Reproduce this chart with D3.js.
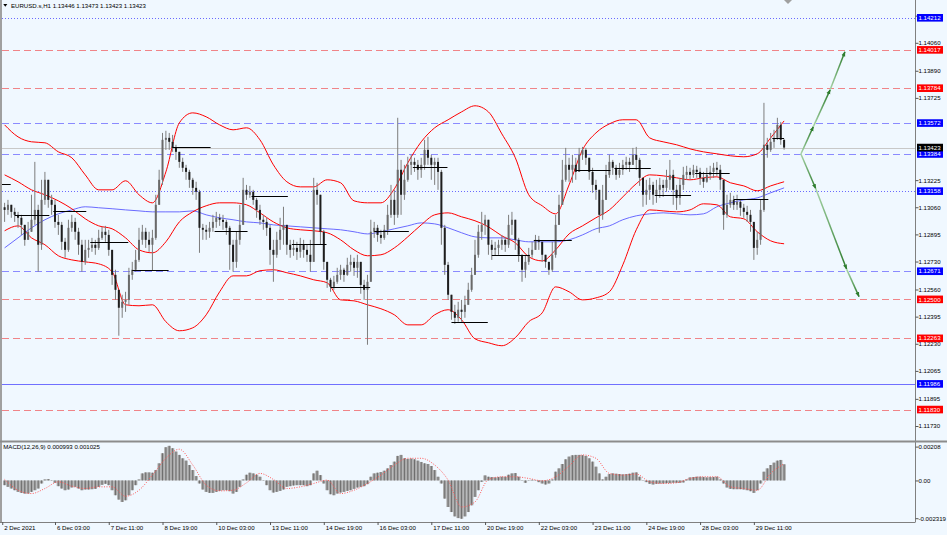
<!DOCTYPE html>
<html>
<head>
<meta charset="utf-8">
<script src="https://cdn.jsdelivr.net/npm/d3@7"></script>
<style>
  body { margin: 0; background: #f0f8ff; }
  svg text { font-family: "Liberation Sans", Arial, sans-serif; font-size: 6.1px; fill: #000; }
</style>
</head>
<body>
<svg id="chart" width="947" height="535"></svg>
<script>
const closes = [
  1.13044,1.13075,1.13032,1.13014,1.12996,1.12953,1.12862,1.12911,1.12984,1.13044,
  1.12832,1.13105,1.13227,1.13105,1.13075,1.12971,1.12953,1.12850,1.12801,1.12935,
  1.12971,1.12911,1.12832,1.12728,1.12801,1.12813,1.12832,1.12813,1.12874,1.12911,
  1.12892,1.12801,1.12649,1.12558,1.12449,1.12485,1.12497,1.12649,1.12680,1.12740,
  1.12862,1.12911,1.12862,1.12832,1.12874,1.13075,1.13227,1.13470,1.13482,1.13458,
  1.13421,1.13397,1.13336,1.13300,1.13275,1.13227,1.13178,1.13154,1.12935,1.12923,
  1.12911,1.12935,1.12971,1.12996,1.12984,1.12971,1.12935,1.12832,1.12728,1.12862,
  1.12953,1.13166,1.13136,1.13154,1.13105,1.13044,1.12984,1.12971,1.12935,1.12801,
  1.12771,1.12862,1.12923,1.12953,1.12832,1.12801,1.12813,1.12789,1.12832,1.12801,
  1.12771,1.12728,1.13166,1.13136,1.12911,1.12728,1.12619,1.12576,1.12607,1.12649,
  1.12680,1.12649,1.12710,1.12728,1.12692,1.12728,1.12588,1.12558,1.12607,1.12911,
  1.12935,1.12892,1.12874,1.12923,1.13014,1.13105,1.13014,1.13288,1.13136,1.13227,
  1.13318,1.13336,1.13318,1.13288,1.13318,1.13409,1.13361,1.13318,1.13336,1.13275,
  1.12935,1.12710,1.12528,1.12424,1.12388,1.12437,1.12424,1.12467,1.12558,1.12649,
  1.12771,1.12911,1.12953,1.12984,1.12832,1.12801,1.12813,1.12832,1.12862,1.12832,
  1.12953,1.12984,1.12862,1.12771,1.12680,1.12728,1.12771,1.12801,1.12862,1.12850,
  1.12771,1.12728,1.12680,1.12771,1.12953,1.13075,1.13227,1.13318,1.13288,1.13318,
  1.13275,1.13379,1.13409,1.13361,1.13275,1.13196,1.13166,1.13014,1.13105,1.13257,
  1.13336,1.13300,1.13257,1.13288,1.13318,1.13336,1.13318,1.13379,1.13348,1.13239,
  1.13136,1.13166,1.13196,1.13136,1.13166,1.13196,1.13178,1.13227,1.13257,1.13166,
  1.13117,1.13196,1.13257,1.13275,1.13257,1.13288,1.13275,1.13239,1.13215,1.13257,
  1.13275,1.13300,1.13288,1.13227,1.13014,1.13075,1.13105,1.13075,1.13093,1.13057,
  1.13032,1.13014,1.12971,1.12813,1.12862,1.13044,1.13440,1.13409,1.13458,1.13482,
  1.13561,1.13470,1.13423
];
const highs = [
  1.13087,1.13105,1.13075,1.13057,1.13032,1.13014,1.12953,1.12971,1.13136,1.13336,
  1.13075,1.13227,1.13275,1.13196,1.13136,1.13105,1.13014,1.12971,1.12874,1.12984,
  1.13014,1.12996,1.12935,1.12862,1.12862,1.12862,1.12874,1.12862,1.12923,1.12941,
  1.12947,1.12923,1.12801,1.12680,1.12558,1.12528,1.12546,1.12692,1.12728,1.12801,
  1.12935,1.12953,1.12935,1.12911,1.12923,1.13136,1.13288,1.13512,1.13525,1.13512,
  1.13500,1.13440,1.13397,1.13361,1.13318,1.13288,1.13239,1.13215,1.13166,1.12959,
  1.12953,1.12971,1.13014,1.13032,1.13020,1.13014,1.12984,1.12947,1.12862,1.12911,
  1.13075,1.13239,1.13196,1.13190,1.13166,1.13117,1.13075,1.13014,1.12996,1.12953,
  1.12862,1.12911,1.12996,1.13063,1.12953,1.12862,1.12862,1.12850,1.12874,1.12862,
  1.12832,1.12862,1.13239,1.13209,1.13117,1.12923,1.12728,1.12631,1.12643,1.12692,
  1.12710,1.12692,1.12753,1.12771,1.12753,1.12771,1.12710,1.12619,1.12649,1.12984,
  1.12971,1.12953,1.12923,1.12953,1.13075,1.13196,1.13166,1.13604,1.13348,1.13318,
  1.13367,1.13379,1.13361,1.13348,1.13361,1.13470,1.13488,1.13379,1.13361,1.13361,
  1.13288,1.12953,1.12728,1.12528,1.12467,1.12485,1.12497,1.12522,1.12601,1.12692,
  1.12862,1.12953,1.13032,1.13014,1.12935,1.12862,1.12850,1.12862,1.12892,1.12880,
  1.13014,1.13032,1.12953,1.12874,1.12771,1.12771,1.12813,1.12850,1.12892,1.12886,
  1.12832,1.12771,1.12728,1.12850,1.13014,1.13136,1.13348,1.13421,1.13361,1.13379,
  1.13361,1.13421,1.13427,1.13421,1.13361,1.13300,1.13227,1.13166,1.13196,1.13318,
  1.13379,1.13348,1.13318,1.13330,1.13348,1.13367,1.13361,1.13421,1.13427,1.13361,
  1.13239,1.13227,1.13239,1.13215,1.13227,1.13239,1.13227,1.13288,1.13348,1.13288,
  1.13196,1.13239,1.13306,1.13312,1.13300,1.13318,1.13312,1.13300,1.13275,1.13300,
  1.13312,1.13330,1.13336,1.13318,1.13227,1.13136,1.13148,1.13130,1.13136,1.13105,
  1.13081,1.13069,1.13044,1.12935,1.12911,1.13105,1.13695,1.13482,1.13512,1.13531,
  1.13604,1.13579,1.13473
];
const lows = [
  1.12971,1.13014,1.12996,1.12971,1.12935,1.12892,1.12826,1.12862,1.12911,1.12953,
  1.12668,1.12801,1.13075,1.13057,1.13014,1.12935,1.12892,1.12801,1.12753,1.12789,
  1.12911,1.12862,1.12771,1.12668,1.12710,1.12753,1.12789,1.12771,1.12801,1.12862,
  1.12850,1.12765,1.12588,1.12497,1.12279,1.12388,1.12424,1.12467,1.12619,1.12668,
  1.12728,1.12832,1.12813,1.12789,1.12674,1.12862,1.13075,1.13196,1.13409,1.13409,
  1.13397,1.13348,1.13300,1.13275,1.13227,1.13178,1.13136,1.13105,1.12783,1.12862,
  1.12862,1.12874,1.12911,1.12935,1.12947,1.12923,1.12892,1.12680,1.12668,1.12692,
  1.12832,1.13105,1.13105,1.13117,1.13075,1.12996,1.12953,1.12923,1.12886,1.12710,
  1.12607,1.12753,1.12801,1.12832,1.12771,1.12753,1.12765,1.12740,1.12753,1.12753,
  1.12728,1.12668,1.12801,1.13075,1.12832,1.12680,1.12570,1.12546,1.12558,1.12595,
  1.12619,1.12607,1.12643,1.12668,1.12643,1.12631,1.12534,1.12497,1.12224,1.12607,
  1.12874,1.12850,1.12838,1.12862,1.12892,1.12996,1.12953,1.12996,1.13014,1.13105,
  1.13215,1.13257,1.13275,1.13227,1.13239,1.13288,1.13318,1.13227,1.13196,1.13166,
  1.12832,1.12649,1.12497,1.12376,1.12351,1.12364,1.12364,1.12388,1.12497,1.12546,
  1.12649,1.12753,1.12862,1.12892,1.12771,1.12740,1.12765,1.12771,1.12801,1.12789,
  1.12813,1.12892,1.12801,1.12728,1.12607,1.12631,1.12710,1.12753,1.12813,1.12801,
  1.12728,1.12692,1.12649,1.12668,1.12753,1.12953,1.13075,1.13215,1.13215,1.13209,
  1.13227,1.13275,1.13348,1.13318,1.13227,1.13148,1.13105,1.12905,1.12984,1.13105,
  1.13239,1.13257,1.13227,1.13239,1.13257,1.13288,1.13275,1.13318,1.13288,1.13190,
  1.13063,1.13075,1.13105,1.13075,1.13087,1.13117,1.13123,1.13154,1.13166,1.13075,
  1.13044,1.13075,1.13166,1.13227,1.13227,1.13239,1.13239,1.13196,1.13178,1.13209,
  1.13227,1.13239,1.13251,1.13166,1.12923,1.12996,1.13057,1.13044,1.13044,1.13008,
  1.12996,1.12971,1.12911,1.12740,1.12771,1.12832,1.13032,1.13361,1.13397,1.13421,
  1.13470,1.13440,1.13410
];
const firstOpen = 1.13060;

// Bollinger bands and moving average, one value every 4 bars
const bandStep = 4;
const bbUpper = [
  1.13561,1.13488,1.13458,1.13452,1.13397,1.13361,1.13257,1.13166,1.13166,1.13221,
  1.13136,1.13087,1.13275,1.13573,1.13634,1.13610,1.13561,1.13531,1.13543,1.13470,
  1.13318,1.13215,1.13184,1.13184,1.13227,1.13209,1.13099,1.13087,1.13087,1.13172,
  1.13330,1.13458,1.13543,1.13592,1.13640,1.13677,1.13640,1.13506,1.13361,1.13136,
  1.13069,1.13020,1.13196,1.13409,1.13512,1.13567,1.13592,1.13592,1.13482,1.13458,
  1.13440,1.13415,1.13397,1.13385,1.13373,1.13367,1.13385,1.13482,1.13585
];
const bbMiddle = [
  1.13257,1.13215,1.13166,1.13136,1.13099,1.13051,1.12990,1.12947,1.12929,1.12874,
  1.12801,1.12783,1.12850,1.12971,1.13032,1.13069,1.13087,1.13087,1.13075,1.13026,
  1.12971,1.12935,1.12923,1.12917,1.12905,1.12862,1.12801,1.12765,1.12771,1.12813,
  1.12880,1.12953,1.13014,1.13026,1.13002,1.12978,1.12941,1.12886,1.12844,1.12759,
  1.12734,1.12801,1.12898,1.12947,1.12996,1.13044,1.13123,1.13203,1.13257,1.13251,
  1.13239,1.13227,1.13239,1.13245,1.13209,1.13190,1.13160,1.13190,1.13215
];
const bbLower = [
  1.12917,1.12947,1.12874,1.12832,1.12765,1.12740,1.12728,1.12716,1.12668,1.12467,
  1.12461,1.12467,1.12364,1.12309,1.12327,1.12406,1.12546,1.12643,1.12643,1.12674,
  1.12680,1.12662,1.12643,1.12619,1.12601,1.12497,1.12491,1.12467,1.12443,1.12406,
  1.12345,1.12345,1.12406,1.12437,1.12376,1.12260,1.12236,1.12218,1.12267,1.12364,
  1.12418,1.12576,1.12546,1.12497,1.12509,1.12546,1.12710,1.12923,1.13044,1.13038,
  1.13032,1.13044,1.13081,1.13075,1.13002,1.12990,1.12911,1.12856,1.12838
];
const maSlow = [
  1.12813,1.12874,1.12935,1.12984,1.13020,1.13044,1.13063,1.13057,1.13051,1.13044,
  1.13038,1.13032,1.13032,1.13032,1.13038,1.13014,1.12996,1.12984,1.12971,1.12965,
  1.12953,1.12947,1.12941,1.12935,1.12929,1.12923,1.12911,1.12898,1.12911,1.12929,
  1.12947,1.12965,1.12959,1.12935,1.12905,1.12880,1.12874,1.12874,1.12862,1.12850,
  1.12850,1.12850,1.12862,1.12892,1.12929,1.12947,1.12984,1.13008,1.13020,1.13026,
  1.13020,1.13014,1.13020,1.13063,1.13087,1.13105,1.13117,1.13148,1.13178
];

// daily open lines
const dayStart = [-1.2,3,14.5,25.5,38,50,62.5,73.5,85.5,97,110,121.5,133,145,157.5,170,181.5,193.5,205.5,217,228.5];
const dayOpen = [1.13203,1.13014,1.13038,1.12850,1.12680,1.13427,1.12917,1.13130,1.12838,1.12576,
  1.12917,1.13306,1.12364,1.12771,1.12862,1.13288,1.13300,1.13136,1.13269,1.13111,1.13482];

// MACD(12,26,9)
const macdHist = [
  -0.000289,-0.000392,-0.000495,-0.000599,-0.000702,-0.000764,-0.000805,-0.000805,-0.000702,-0.000599,
  -0.000495,-0.000186,0.000062,0.000083,0.000021,-0.000144,-0.000351,-0.000495,-0.000599,-0.000557,
  -0.000433,-0.000392,-0.000495,-0.000599,-0.000557,-0.000557,-0.000537,-0.000516,-0.000392,-0.000268,
  -0.000206,-0.000289,-0.000599,-0.000908,-0.001176,-0.001321,-0.001218,-0.000908,-0.000599,-0.000289,
  0.000062,0.000433,0.000495,0.000495,0.000475,0.000640,0.001053,0.001672,0.002043,0.002126,
  0.001981,0.001775,0.001569,0.001362,0.001218,0.000949,0.000640,0.000268,-0.000186,-0.000557,
  -0.000702,-0.000764,-0.000764,-0.000702,-0.000640,-0.000599,-0.000599,-0.000660,-0.000805,-0.000702,
  -0.000392,0.000062,0.000351,0.000475,0.000433,0.000351,0.000227,-0.000021,-0.000289,-0.000599,
  -0.000743,-0.000702,-0.000640,-0.000557,-0.000392,-0.000351,-0.000310,-0.000289,-0.000289,-0.000289,
  -0.000351,-0.000289,0.000433,0.000599,0.000330,-0.000186,-0.000599,-0.000846,-0.000908,-0.000805,
  -0.000743,-0.000702,-0.000640,-0.000599,-0.000516,-0.000433,-0.000392,-0.000351,-0.000227,0.000227,
  0.000433,0.000475,0.000516,0.000599,0.000743,0.000949,0.001156,0.001507,0.001569,0.001362,
  0.001321,0.001342,0.001300,0.001218,0.001135,0.001053,0.001011,0.000888,0.000640,0.000227,
  -0.000186,-0.001115,-0.001631,-0.001940,-0.002208,-0.002312,-0.002353,-0.002208,-0.001940,-0.001527,
  -0.001011,-0.000599,-0.000083,0.000310,0.000227,0.000206,0.000186,0.000206,0.000227,0.000227,
  0.000351,0.000433,0.000454,0.000227,-0.000021,-0.000144,0.000021,0.000041,-0.000021,-0.000103,
  -0.000186,-0.000248,-0.000186,0.000062,0.000537,0.000743,0.001011,0.001300,0.001465,0.001548,
  0.001569,0.001569,0.001548,0.001507,0.001362,0.001156,0.000846,0.000433,0.000062,0.000227,
  0.000392,0.000433,0.000413,0.000392,0.000372,0.000392,0.000413,0.000475,0.000495,0.000227,
  0.000021,-0.000103,-0.000206,-0.000248,-0.000206,-0.000186,-0.000186,-0.000165,-0.000165,-0.000144,
  -0.000144,-0.000144,-0.000124,0.000062,0.000186,0.000206,0.000227,0.000227,0.000206,0.000186,
  0.000206,0.000206,0.000227,0.000062,-0.000186,-0.000433,-0.000516,-0.000537,-0.000537,-0.000537,
  -0.000557,-0.000599,-0.000660,-0.000764,-0.000599,-0.000186,0.000537,0.000743,0.000949,0.001094,
  0.001218,0.001259,0.000993
];
const macdSignal = [
  0.000062,-0.000599,-0.000805,-0.000495,-0.000083,-0.000351,-0.000495,-0.000392,-0.000392,-0.000970,
  -0.000599,0.000330,0.001362,0.001920,0.000949,-0.000289,-0.000640,-0.000599,-0.000144,0.000433,
  0.000062,-0.000495,-0.000392,-0.000186,0.000021,-0.000805,-0.000599,-0.000186,0.000330,0.000949,
  0.001362,0.001362,0.000949,0.000021,-0.001631,-0.001321,0.000062,0.000227,0.000227,0.000124,
  -0.000021,0.000227,0.000888,0.001569,0.001362,0.000433,0.000330,0.000392,-0.000083,-0.000186,
  -0.000144,0.000124,0.000227,0.000227,-0.000392,-0.000495,-0.000599,0.000433,0.001025
];

// horizontal levels
const levelPrices = [1.14212, 1.14017, 1.13784, 1.13572, 1.13384, 1.13158, 1.12671, 1.12500, 1.12263, 1.11986, 1.11830];
const levelKinds  = ["blueDot","redDash","redDash","blueDash","blueDash","blueDot","blueDash","redDash","redDash","blueSolid","redDash"];
const lastPrice = 1.13423;

// projected scenarios (bar index, price)
const arrowUp = [[237, 1.13384], [240.7, 1.13550], [245.7, 1.13774], [250.1, 1.14005]];
const arrowDown = [[237, 1.13384], [241.4, 1.13174], [250.6, 1.12684], [254.3, 1.12517]];

// axes (ticks hidden behind the level tags are left out)
const priceTicks = [1.14225,1.14060,1.13890,1.13725,1.13225,1.13060,1.12895,1.12730,1.12560,1.12395,1.12230,1.12065,1.11895,1.11730];
const macdTicks = [0.00208, 0, -0.002319];
const macdTickLabels = ["0.00208", "0.00", "-0.002319"];
const timeLabels = ["2 Dec 2021","6 Dec 03:00","7 Dec 11:00","8 Dec 19:00","10 Dec 03:00","13 Dec 11:00","14 Dec 19:00",
  "16 Dec 03:00","17 Dec 11:00","20 Dec 19:00","22 Dec 03:00","23 Dec 11:00","24 Dec 19:00","28 Dec 03:00","29 Dec 11:00"];
const timeLabelBars = [-0.7,15,31,47,63,79,95,111,127,143,159,175,191,207,223];

const W = 947, H = 535;
const axisX = 915.5, sepY = 441.5, bottomY = 522;
const svg = d3.select("#chart");

const x = d3.scaleLinear().domain([0, 232]).range([4.6, 784.1]);
const y = d3.scaleLinear().domain([1.11730, 1.14060]).range([426, 42.8]);
const ym = d3.scaleLinear().domain([-0.002319, 0.00208]).range([518.2, 446.6]);

svg.append("rect").attr("width", W).attr("height", H).attr("fill", "#f0f8ff");

const defs = svg.append("defs");
defs.append("clipPath").attr("id", "clipMain").append("rect")
  .attr("x", 2).attr("y", 0).attr("width", axisX - 2).attr("height", sepY - 1);
defs.append("clipPath").attr("id", "clipMacd").append("rect")
  .attr("x", 2).attr("y", sepY + 1).attr("width", axisX - 2).attr("height", bottomY - sepY - 1);

const main = svg.append("g").attr("clip-path", "url(#clipMain)");

// level lines
const levelStyle = {
  blueDot:   { stroke: "#6a6aff", dash: "1,2" },
  blueDash:  { stroke: "#8a8aff", dash: "7,4" },
  blueSolid: { stroke: "#7070ff", dash: null },
  redDash:   { stroke: "#f08488", dash: "7,4" }
};
main.selectAll("line.level")
  .data(levelPrices)
  .enter()
  .append("line")
  .attr("class", "level")
  .attr("x1", 2).attr("x2", axisX)
  .attr("y1", d => Math.round(y(d)) + 0.5).attr("y2", d => Math.round(y(d)) + 0.5)
  .attr("stroke", (d, i) => levelStyle[levelKinds[i]].stroke)
  .attr("stroke-dasharray", (d, i) => levelStyle[levelKinds[i]].dash);

// bid line
main.append("line")
  .attr("x1", 2).attr("x2", axisX)
  .attr("y1", Math.round(y(lastPrice)) + 0.5).attr("y2", Math.round(y(lastPrice)) + 0.5)
  .attr("stroke", "#c8c8c8");

// moving average and bands
const bandLine = d3.line()
  .x((d, i) => x(i * bandStep))
  .y(d => y(d))
  .curve(d3.curveMonotoneX);
main.append("path").attr("d", bandLine(maSlow))
  .attr("fill", "none").attr("stroke", "#5a5aff").attr("stroke-width", 0.9);
[bbUpper, bbMiddle, bbLower].forEach(function (band) {
  main.append("path").attr("d", bandLine(band))
    .attr("fill", "none").attr("stroke", "#ff0000").attr("stroke-width", 1);
});

// candles
const bars = closes.map(function (c, i) {
  const o = i ? closes[i - 1] : firstOpen;
  return { i: i, o: o, c: c, h: Math.max(highs[i], o, c), l: Math.min(lows[i], o, c) };
});
const candle = main.append("g").selectAll("g")
  .data(bars)
  .enter()
  .append("g");
candle.append("line")
  .attr("x1", d => x(d.i)).attr("x2", d => x(d.i))
  .attr("y1", d => y(d.h)).attr("y2", d => y(d.l))
  .attr("stroke", "#7d7d7d").attr("stroke-width", 1);
candle.append("rect")
  .attr("x", d => x(d.i) - 1)
  .attr("width", 2)
  .attr("y", d => y(Math.max(d.o, d.c)))
  .attr("height", d => Math.max(1, Math.abs(y(d.o) - y(d.c))))
  .attr("fill", d => d.c >= d.o ? "#6a6a6a" : "#1e1e1e");

// daily open lines
main.selectAll("line.day")
  .data(dayOpen)
  .enter()
  .append("line")
  .attr("class", "day")
  .attr("x1", (d, i) => x(dayStart[i]))
  .attr("x2", (d, i) => i < dayStart.length - 1 ? x(dayStart[i + 1]) - 4 : x(232))
  .attr("y1", d => Math.round(y(d)) + 0.5).attr("y2", d => Math.round(y(d)) + 0.5)
  .attr("stroke", "#000").attr("stroke-width", 1);

// scenario arrows
defs.append("marker").attr("id", "head")
  .attr("viewBox", "0 0 10 10").attr("refX", 9).attr("refY", 5)
  .attr("markerWidth", 5).attr("markerHeight", 5).attr("markerUnits", "userSpaceOnUse")
  .attr("orient", "auto")
  .append("path").attr("d", "M0,1 L10,5 L0,9 Z").attr("fill", "#2f7d2f");
let gid = 0;
[arrowUp, arrowDown].forEach(function (path) {
  for (let k = 1; k < path.length; k++) {
    const p0 = path[k - 1], p1 = path[k];
    const id = "ag" + (gid++);
    const grad = defs.append("linearGradient").attr("id", id)
      .attr("gradientUnits", "userSpaceOnUse")
      .attr("x1", x(p0[0])).attr("y1", y(p0[1])).attr("x2", x(p1[0])).attr("y2", y(p1[1]));
    grad.append("stop").attr("offset", "0%").attr("stop-color", "#a8d4a8");
    grad.append("stop").attr("offset", "100%").attr("stop-color", "#2a7a2a");
    main.append("line")
      .attr("x1", x(p0[0])).attr("y1", y(p0[1]))
      .attr("x2", x(p1[0])).attr("y2", y(p1[1]))
      .attr("stroke", "url(#" + id + ")").attr("stroke-width", 1.5)
      .attr("marker-end", "url(#head)");
  }
});

// MACD panel
const macd = svg.append("g").attr("clip-path", "url(#clipMacd)");
const histBar = macd.selectAll("g")
  .data(macdHist)
  .enter()
  .append("g");
histBar.append("rect")
  .attr("x", (d, i) => x(i) - 1.68)
  .attr("width", 3.36)
  .attr("y", d => Math.min(ym(d), ym(0)))
  .attr("height", d => Math.abs(ym(d) - ym(0)))
  .attr("fill", "#a9a9a9");
histBar.append("line")
  .attr("x1", (d, i) => x(i)).attr("x2", (d, i) => x(i))
  .attr("y1", d => ym(d)).attr("y2", ym(0))
  .attr("stroke", "#6e6e6e").attr("stroke-width", 1);
macd.append("path")
  .attr("d", d3.line().x((d, i) => x(i * bandStep)).y(d => ym(d)).curve(d3.curveMonotoneX)(macdSignal))
  .attr("fill", "none").attr("stroke", "#ff5a5a").attr("stroke-width", 1)
  .attr("stroke-dasharray", "1,1.5");

// frame
svg.append("rect").attr("x", 0).attr("y", 0).attr("width", 2).attr("height", bottomY).attr("fill", "#a0a0a0");
svg.append("line").attr("x1", axisX).attr("x2", axisX).attr("y1", 0).attr("y2", bottomY)
  .attr("stroke", "#808080");
svg.append("rect").attr("x", 0).attr("y", sepY - 1).attr("width", W).attr("height", 2).attr("fill", "#8c8c8c");
svg.append("line").attr("x1", 0).attr("x2", axisX).attr("y1", bottomY + 0.5).attr("y2", bottomY + 0.5)
  .attr("stroke", "#808080");
svg.append("path").attr("d", "M784,0 L792,0 L788,4 Z").attr("fill", "#a0a0a0");

// price axis
const priceAxis = d3.axisRight(y).tickValues(priceTicks).tickFormat(d3.format(".5f"))
  .tickSize(3).tickPadding(0);
svg.append("g").attr("transform", "translate(" + axisX + ",0)").call(priceAxis)
  .call(g => g.select(".domain").remove())
  .call(g => g.selectAll(".tick line").attr("stroke", "#555"));

// level tags
const tagColor = { blueDot: "#0000ff", blueDash: "#0000ff", blueSolid: "#0000ff", redDash: "#ff0000" };
const tags = levelPrices.map((p, i) => ({ p: p, fill: tagColor[levelKinds[i]] }))
  .concat([{ p: lastPrice, fill: "#000000" }]);
const tag = svg.append("g").selectAll("g")
  .data(tags)
  .enter()
  .append("g")
  .attr("transform", d => "translate(917," + y(d.p) + ")");
tag.append("rect").attr("x", 0).attr("y", -3.8).attr("width", 26).attr("height", 7.6)
  .attr("fill", d => d.fill);
tag.append("text").attr("x", 1.5).attr("dy", "0.35em")
  .style("fill", "#fff")
  .text(d => d.p.toFixed(5));

// MACD axis
const macdAxis = d3.axisRight(ym).tickValues(macdTicks).tickFormat((d, i) => macdTickLabels[i])
  .tickSize(3).tickPadding(0);
svg.append("g").attr("transform", "translate(" + axisX + ",0)").call(macdAxis)
  .call(g => g.select(".domain").remove())
  .call(g => g.selectAll(".tick line").attr("stroke", "#555"));

// time axis
const timeAxis = d3.axisBottom(x).tickValues(timeLabelBars).tickFormat((d, i) => timeLabels[i])
  .tickSize(3).tickPadding(0);
svg.append("g").attr("transform", "translate(0," + bottomY + ")").call(timeAxis)
  .call(g => g.select(".domain").remove())
  .call(g => g.selectAll(".tick line").attr("stroke", "#555"))
  .call(g => g.selectAll(".tick text").attr("text-anchor", "start").attr("x", 1.5).attr("y", 3.2));

// captions
svg.append("path").attr("d", "M3.3,4 L7.3,4 L5.3,6.8 Z").attr("fill", "#000");
svg.append("text").attr("x", 11).attr("y", 5.4).attr("dy", "0.35em")
  .text("EURUSD.s,H1  1.13446 1.13473 1.13423 1.13423");
svg.append("text").attr("x", 3.3).attr("y", 447).attr("dy", "0.35em")
  .text("MACD(12,26,9) 0.000993 0.001025");
</script>
</body>
</html>
